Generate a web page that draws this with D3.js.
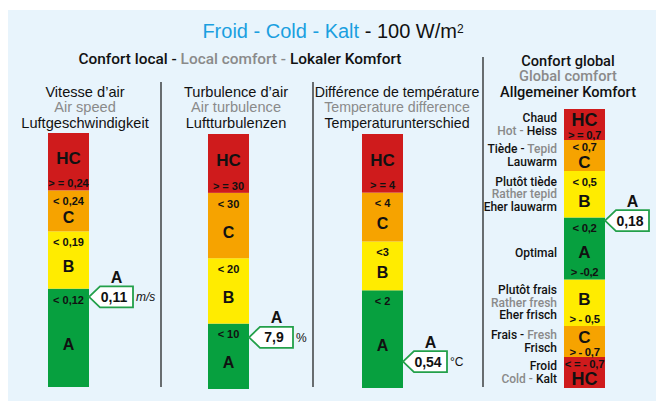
<!DOCTYPE html>
<html>
<head>
<meta charset="utf-8">
<script src="https://cdn.jsdelivr.net/npm/d3@7"></script>
<style>
  html, body { margin: 0; padding: 0; background: #fff; }
  svg { display: block; font-family: "Liberation Sans", Arial, sans-serif; }
</style>
</head>
<body>
<div id="chart"></div>
<script>
// ---- data -------------------------------------------------------------
// classes from the bottom of each bar upwards
var classes = ['A', 'B', 'C', 'HC'];

var speedBreaks = [0, 0.12, 0.19, 0.24, 0.31];
var speedTopText = ['< 0,12', '< 0,19', '< 0,24', ''];
var speedBottomText = ['', '', '', '> = 0,24'];
var speedValue = 0.11;

var turbBreaks = [0, 10, 20, 30, 39];
var turbTopText = ['< 10', '< 20', '< 30', ''];
var turbBottomText = ['', '', '', '> = 30'];
var turbValue = 7.9;

var tempBreaks = [0, 2, 3, 4, 5.2];
var tempTopText = ['< 2', '<3', '< 4', ''];
var tempBottomText = ['', '', '', '> = 4'];
var tempValue = 0.54;

var globalClasses = ['HC', 'C', 'B', 'A', 'B', 'C', 'HC'];
var globalBreaks = [-0.9, -0.7, -0.5, -0.2, 0.2, 0.5, 0.7, 0.9];
var globalTopText = ['< = - 0,7', '', '', '< 0,2', '< 0,5', '< 0,7', ''];
var globalBottomText = ['', '> - 0,7', '> - 0,5', '> -0,2', '', '', '> = 0,7'];
var globalValue = 0.18;

// side labels of the global bar, [text, isGrey] pieces per line
var globalNames = [
  [[['Froid', 0]], [['Cold - ', 1], ['Kalt', 0]]],
  [[['Frais - ', 0], ['Fresh', 1]], [['Frisch', 0]]],
  [[['Plutôt frais', 0]], [['Rather fresh', 1]], [['Eher frisch', 0]]],
  [[['Optimal', 0]]],
  [[['Plutôt tiède', 0]], [['Rather tepid', 1]], [['Eher lauwarm', 0]]],
  [[['Tiède - ', 0], ['Tepid', 1]], [['Lauwarm', 0]]],
  [[['Chaud', 0]], [['Hot - ', 1], ['Heiss', 0]]]
];

var speedHeader = ['Vitesse d\u2019air', 'Air speed', 'Luftgeschwindigkeit'];
var turbHeader = ['Turbulence d\u2019air', 'Air turbulence', 'Luftturbulenzen'];
var tempHeader = ['Différence de température', 'Temperature difference', 'Temperaturunterschied'];
var globalHeader = ['Confort global', 'Global comfort', 'Allgemeiner Komfort'];

// ---- style --------------------------------------------------------------
var W = 656, H = 407;
var colors = { A: '#07a03f', B: '#ffec00', C: '#f6a300', HC: '#cf1b1c' };
var grey = '#8a8a8a', ink = '#111', blue = '#1a9fe0', pointerGreen = '#23a04a';
var barW = 41;

var svg = d3.select('#chart').append('svg')
  .attr('width', W).attr('height', H);

svg.append('rect')
  .attr('x', 8).attr('y', 10)
  .attr('width', W - 8).attr('height', 391)
  .attr('fill', '#e8f4fc');

// title
var title = svg.append('text')
  .attr('x', 333).attr('y', 31).attr('dy', '0.35em')
  .attr('text-anchor', 'middle')
  .style('font-size', '20px');
title.append('tspan').attr('fill', blue).text('Froid - Cold - Kalt');
title.append('tspan').attr('fill', ink).text(' - 100 W/m');
title.append('tspan').attr('fill', ink).attr('dy', '-0.45em').style('font-size', '12px').text('2');

var sub = svg.append('text')
  .attr('x', 240).attr('y', 59).attr('dy', '0.35em')
  .attr('text-anchor', 'middle')
  .style('font-family', 'Roboto, sans-serif')
  .style('font-weight', 500)
  .style('font-size', '15.4px');
sub.append('tspan').attr('fill', ink).text('Confort local - ');
sub.append('tspan').attr('fill', grey).text('Local comfort  - ');
sub.append('tspan').attr('fill', ink).text('Lokaler Komfort');

// separators
[[161, 82], [313, 82], [483, 57]].forEach(function (s) {
  svg.append('line')
    .attr('x1', s[0]).attr('x2', s[0])
    .attr('y1', s[1]).attr('y2', 387)
    .attr('stroke', ink).attr('stroke-width', 1.2);
});

// ---- columns ------------------------------------------------------------
var columns = [
  { header: speedHeader, headerX: 85, headerY: 92, headerSize: 14.6, barX: 48, top: 133, bottom: 387,
    classes: classes, breaks: speedBreaks, topText: speedTopText, bottomText: speedBottomText,
    value: speedValue, unit: 'm/s', italic: true, letterSize: 16, thrSize: 11 },
  { header: turbHeader, headerX: 236, headerY: 92, headerSize: 14.6, barX: 208, top: 134, bottom: 389,
    classes: classes, breaks: turbBreaks, topText: turbTopText, bottomText: turbBottomText,
    value: turbValue, unit: '%', letterSize: 16, thrSize: 11 },
  { header: tempHeader, headerX: 397, headerY: 92, headerSize: 14.2, barX: 362, top: 134, bottom: 388,
    classes: classes, breaks: tempBreaks, topText: tempTopText, bottomText: tempBottomText,
    value: tempValue, unit: '°C', letterSize: 16, thrSize: 11 },
  { header: globalHeader, headerX: 568, headerY: 61, headerSize: 14.6, medium: true, barX: 564, top: 109, bottom: 388,
    classes: globalClasses, breaks: globalBreaks, topText: globalTopText, bottomText: globalBottomText,
    value: globalValue, unit: '', letterSize: 17, thrSize: 11.3, thrSpacing: -0.3, names: globalNames }
];

columns.forEach(drawColumn);

function drawColumn(col) {
  var g = svg.append('g');
  var n = col.breaks.length;
  var y = d3.scaleLinear()
    .domain([col.breaks[0], col.breaks[n - 1]])
    .range([col.bottom, col.top]);

  var segs = col.classes.map(function (c, i) {
    return { cls: c, lo: col.breaks[i], hi: col.breaks[i + 1],
      topText: col.topText[i], bottomText: col.bottomText[i], names: col.names ? col.names[i] : null };
  });

  // header, three languages
  var hdr = g.append('text')
    .attr('text-anchor', 'middle')
    .style('font-size', col.headerSize + 'px');
  if (col.medium) hdr.style('font-family', 'Roboto, sans-serif').style('font-weight', 500);
  col.header.forEach(function (t, i) {
    hdr.append('tspan')
      .attr('x', col.headerX)
      .attr('y', col.headerY + i * 15.3)
      .attr('dy', '0.35em')
      .attr('fill', i === 1 ? grey : ink)
      .text(t);
  });

  g.selectAll('rect.seg')
    .data(segs)
    .enter().append('rect')
    .attr('class', 'seg')
    .attr('x', col.barX)
    .attr('width', barW)
    .attr('y', function (d) { return y(d.hi); })
    .attr('height', function (d) { return y(d.lo) - y(d.hi); })
    .attr('fill', function (d) { return colors[d.cls]; });

  var cx = col.barX + barW / 2;
  segs.forEach(function (d) {
    var top = y(d.hi), bot = y(d.lo), h = bot - top;
    var ty = top + (h > 40 ? 11 : 7), by = bot - (h > 40 ? 7 : 5), ly;
    if (d.topText && d.bottomText) ly = (top + bot) / 2 + 4;
    else if (d.topText) ly = h > 40 ? (ty + bot) / 2 + 1 : bot - 9;
    else ly = h > 40 ? (top + by) / 2 : top + 11;

    if (d.topText) addBold(g, cx, ty, d.topText, col.thrSize).style('letter-spacing', (col.thrSpacing || 0) + 'px');
    if (d.bottomText) addBold(g, cx, by, d.bottomText, col.thrSize).style('letter-spacing', (col.thrSpacing || 0) + 'px');
    addBold(g, cx, ly, d.cls, col.letterSize + (d.cls === 'HC' ? 1 : 0));

    if (d.names) {
      var mid = (top + bot) / 2 + (d.names.length === 1 ? 4 : 0);
      var lab = g.append('text')
        .attr('text-anchor', 'end')
        .style('font-family', 'Roboto, sans-serif')
        .style('font-weight', 500)
        .style('font-size', '12px');
      d.names.forEach(function (line, i) {
        var ly2 = mid + (i - (d.names.length - 1) / 2) * 12.5;
        line.forEach(function (p, j) {
          var ts = lab.append('tspan')
            .attr('fill', p[1] ? grey : ink)
            .text(p[0]);
          if (j === 0) ts.attr('x', col.barX - 7).attr('y', ly2).attr('dy', '0.35em');
        });
      });
    }
  });

  // pointer with the measured value
  var seg = segs.filter(function (d) { return col.value >= d.lo && col.value < d.hi; })[0];
  var px = col.barX + barW, py = y(col.value), pw = 44, ph = 21, tip = 11;
  g.append('path')
    .attr('d', 'M' + px + ',' + py +
      'L' + (px + tip) + ',' + (py - ph / 2) +
      'L' + (px + pw) + ',' + (py - ph / 2) +
      'L' + (px + pw) + ',' + (py + ph / 2) +
      'L' + (px + tip) + ',' + (py + ph / 2) + 'Z')
    .attr('fill', '#fff')
    .attr('stroke', pointerGreen)
    .attr('stroke-width', 1.8);
  addBold(g, px + 25, py, String(col.value).replace('.', ','), 14);
  addBold(g, px + (tip + pw) / 2, py - ph / 2 - 9, seg.cls, 16);
  if (col.unit) {
    g.append('text')
      .attr('x', px + pw + 3).attr('y', py).attr('dy', '0.35em')
      .style('font-size', '12px')
      .style('font-style', col.italic ? 'italic' : 'normal')
      .attr('fill', ink)
      .text(col.unit);
  }
}

function addBold(g, x, y, t, size) {
  return g.append('text')
    .attr('x', x).attr('y', y).attr('dy', '0.35em')
    .attr('text-anchor', 'middle')
    .style('font-size', size + 'px')
    .style('font-weight', 'bold')
    .attr('fill', ink)
    .text(t);
}
</script>
</body>
</html>
